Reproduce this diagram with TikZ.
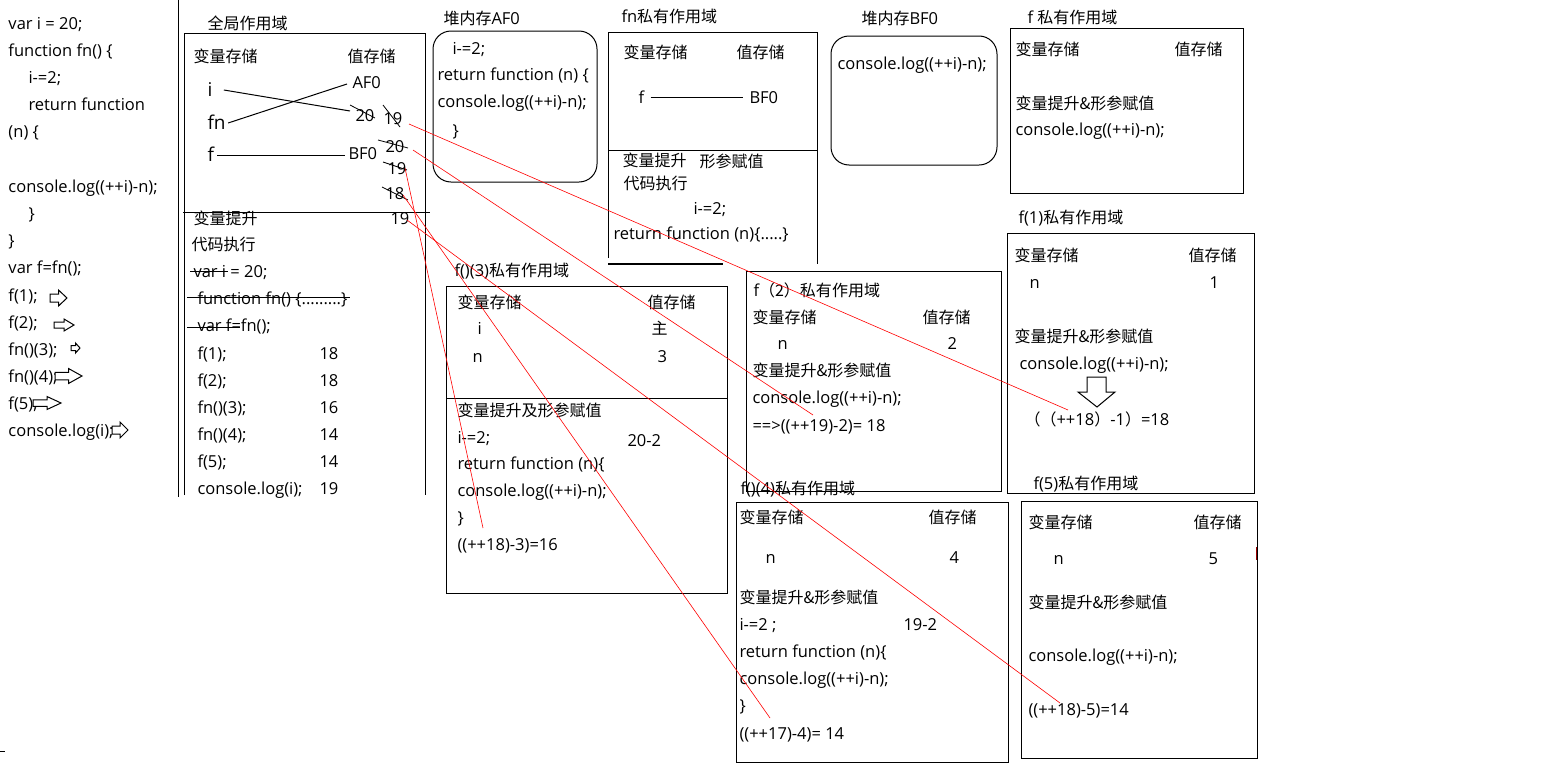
\documentclass[tikz,border=0pt]{standalone}
\usepackage{fontspec}
\setmainfont{Open Sans}
\newfontfamily\cjk{Noto Sans CJK SC}[Scale=0.97]

\tikzset{
 txt/.style={anchor=west,inner sep=0pt,text height=14pt,text depth=2pt,font=\fontsize{16.5}{20}\selectfont},
 bigtxt/.style={txt,font=\fontsize{19}{22}\selectfont},
 heapbox/.style={rounded corners=18pt},
 strike/.style={line width=0.8pt},
 trace/.style={red,line width=0.6pt},
}

\begin{document}
\begin{tikzpicture}[x=1pt,y=-1pt,line width=1pt]
\path[fill=white,use as bounding box] (0,0) rectangle (1552,763);

% source code on the left
\node[txt] (c1) at (8,23) {var i = 20;};
\node[txt] (c2) at (8,50) {function fn() \{};
\node[txt] (c3) at (28,77) {i-=2;};
\node[txt] (c4) at (28,104) {return function};
\node[txt] (c5) at (8,131) {(n) \{};
\node[txt] (c6) at (8,186) {console.log((++i)-n);};
\node[txt] (c7) at (28,213) {\}};
\node[txt] (c8) at (8,240) {\}};
\node[txt] (c9) at (8,267) {var f=fn();};
\node[txt] (c10) at (8,295) {f(1);};
\node[txt] (c11) at (8,322) {f(2);};
\node[txt] (c12) at (8,349) {fn()(3);};
\node[txt] (c13) at (8,376) {fn()(4);};
\node[txt] (c14) at (8,403) {f(5);};
\node[txt] (c15) at (8,430) {console.log(i);};
\draw (178,0) -- (178,497);
\draw (0,751) -- (5,751);
\foreach \ax/\ay/\al/\ah in {50/298/17/16, 54/325/20/12, 71/348/9/10, 55/376/27/15, 33/403/28/13, 112/430/16/16}
 \draw[fill=white] (\ax,\ay-\ah/4) -- (\ax+\al/2,\ay-\ah/4) -- (\ax+\al/2,\ay-\ah/2) -- (\ax+\al,\ay)
   -- (\ax+\al/2,\ay+\ah/2) -- (\ax+\al/2,\ay+\ah/4) -- (\ax,\ay+\ah/4) -- cycle;

% global scope
\node[txt] (gtitle) at (207,23) {\cjk 全局作用域};
\draw (184,495) -- (184,33) -- (425,33) -- (425,495);
\draw (183,212) -- (430,212);
\node[txt] (gvar) at (193,56) {\cjk 变量存储};
\node[txt] (gval) at (347,56) {\cjk 值存储};
\node[bigtxt] (gi) at (207,90) {i};
\node[bigtxt] (gfn) at (207,123) {fn};
\node[bigtxt] (gf) at (207,155) {f};
\node[txt] (gaf) at (352,82) {AF0};
\node[txt] (g20) at (355,115) {20};
\node[txt] (gbf) at (348,153) {BF0};
\draw ([xshift=11pt]gi.east) -- ([xshift=-5pt,yshift=4pt]g20.west);
\draw ([xshift=2pt]gfn.east) -- ([xshift=-5pt,yshift=-2pt]gaf.west);
\draw ([xshift=3pt]gf.east) -- ([xshift=-3pt,yshift=-2pt]gbf.west);
\node[txt] (g19a) at (383,118) {19};
\node[txt] (g20b) at (385,146) {20};
\node[txt] (g19b) at (387,168) {19};
\node[txt] (g18) at (385,193) {18};
\node[txt] (g19c) at (390,218) {19};
\draw[strike] (350,105) -- (375,118);
\draw[strike] (383,105) -- (400,127);
\draw[strike] (378,140) -- (408,148);
\draw[strike] (383,162) -- (407,170);
\draw[strike] (382,187) -- (408,200);
\node[txt] (ghoist) at (193,218) {\cjk 变量提升};
\node[txt] (grun) at (191,244) {\cjk 代码执行};
\node[txt] (g1) at (193,271) {var i = 20;};
\node[txt] (g2) at (197,298) {function fn() \{.........\}};
\node[txt] (g3) at (197,325) {var f=fn();};
\draw[strike] (190,271) -- (228,271);
\draw[strike] (187,297) -- (350,297);
\draw[strike] (187,327) -- (240,327);
\foreach \y/\call/\out [count=\k] in {353/f(1);/18, 380/f(2);/18, 407/fn()(3);/16,
    434/fn()(4);/14, 461/f(5);/14, 488/console.log(i);/19} {
 \node[txt] (call\k) at (197,\y) {\call};
 \node[txt] (out\k) at (319,\y) {\out};
}

% heap AF0
\node[txt] (aftitle) at (443,18) {{\cjk 堆内存}AF0};
\draw[heapbox] (433,31) rectangle (597,182);
\node[txt] (af1) at (452,48) {i-=2;};
\node[txt] (af2) at (437,74) {return function (n) \{};
\node[txt] (af3) at (437,101) {console.log((++i)-n);};
\node[txt] (af4) at (452,130) {\}};

% fn private scope
\node[txt] (fntitle) at (621,16) {fn{\cjk 私有作用域}};
\draw (608,258) -- (608,32) -- (817,32) -- (817,264);
\draw[line width=2pt] (608,264) -- (723,264);
\draw (608,150) -- (817,150);
\node[txt] (fnvar) at (623,52) {\cjk 变量存储};
\node[txt] (fnval) at (736,52) {\cjk 值存储};
\node[txt] (fnf) at (638,97) {f};
\node[txt] (fnbf) at (749,97) {BF0};
\draw ([xshift=6pt]fnf.east) -- ([xshift=-6pt]fnbf.west);
\node[txt] (fnhoist) at (622,160) {\cjk 变量提升};
\node[txt] (fnarg) at (699,161) {\cjk 形参赋值};
\node[txt] (fnrun) at (623,183) {\cjk 代码执行};
\node[txt] (fn1) at (693,208) {i-=2;};
\node[txt] (fn2) at (613,233) {return function (n)\{.....\}};

% heap BF0
\node[txt] (bftitle) at (861,18) {{\cjk 堆内存}BF0};
\draw[heapbox] (831,36) rectangle (997,165);
\node[txt] (bf1) at (837,63) {console.log((++i)-n);};

% f private scope
\node[txt] (ftitle) at (1027,17) {f {\cjk 私有作用域}};
\draw (1010,28) rectangle (1243,193);
\node[txt] (fvar) at (1015,49) {\cjk 变量存储};
\node[txt] (fval) at (1174,49) {\cjk 值存储};
\node[txt] (fhoist) at (1015,103) {\cjk 变量提升\&形参赋值};
\node[txt] (f1) at (1015,129) {console.log((++i)-n);};

% f()(3)
\node[txt] (t3) at (454,270) {f()(3){\cjk 私有作用域}};
\draw (446,286) rectangle (727,593);
\draw (446,398) -- (727,398);
\node[txt] (v3var) at (457,302) {\cjk 变量存储};
\node[txt] (v3val) at (647,302) {\cjk 值存储};
\node[txt] (v3i) at (477,328) {i};
\node[txt] (v3ival) at (651,328) {\cjk 主};
\node[txt] (v3n) at (472,356) {n};
\node[txt] (v3nval) at (657,356) {3};
\node[txt] (v3hoist) at (457,410) {\cjk 变量提升及形参赋值};
\node[txt] (v3a) at (457,437) {i-=2;};
\node[txt] (v3b) at (627,440) {20-2};
\node[txt] (v3c) at (457,463) {return function (n)\{};
\node[txt] (v3d) at (457,490) {console.log((++i)-n);};
\node[txt] (v3e) at (457,517) {\}};
\node[txt] (v3r) at (457,544) {((++18)-3)=16};

% f(2)
\draw (746,271) rectangle (1001,491);
\node[txt] (t2) at (753,290) {f{\cjk （2）私有作用域}};
\node[txt] (v2var) at (752,317) {\cjk 变量存储};
\node[txt] (v2val) at (922,317) {\cjk 值存储};
\node[txt] (v2n) at (777,343) {n};
\node[txt] (v2nval) at (947,343) {2};
\node[txt] (v2hoist) at (752,370) {\cjk 变量提升\&形参赋值};
\node[txt] (v2a) at (752,397) {console.log((++i)-n);};
\node[txt] (v2r) at (752,425) {==>((++19)-2)= 18};

% f(1)
\node[txt] (t1) at (1018,217) {f(1){\cjk 私有作用域}};
\draw (1007,233) rectangle (1254,493);
\node[txt] (v1var) at (1014,255) {\cjk 变量存储};
\node[txt] (v1val) at (1188,255) {\cjk 值存储};
\node[txt] (v1n) at (1029,282) {n};
\node[txt] (v1nval) at (1209,282) {1};
\node[txt] (v1hoist) at (1014,336) {\cjk 变量提升\&形参赋值};
\node[txt] (v1a) at (1019,363) {console.log((++i)-n);};
\draw (1087,377) -- (1106,377) -- (1106,392) -- (1115,392) -- (1097,407) -- (1078,392) -- (1087,392) -- cycle;
\node[txt] (v1r) at (1024,419) {{\cjk （（}++18{\cjk ）}-1{\cjk ）}=18};
\node[txt] (t5) at (1033,483) {f(5){\cjk 私有作用域}};

% f()(4)
\draw (736,502) rectangle (1008,762.5);
\node[txt] (t4) at (740,488) {f()(4){\cjk 私有作用域}};
\node[txt] (v4var) at (739,517) {\cjk 变量存储};
\node[txt] (v4val) at (928,517) {\cjk 值存储};
\node[txt] (v4n) at (765,557) {n};
\node[txt] (v4nval) at (949,557) {4};
\node[txt] (v4hoist) at (739,597) {\cjk 变量提升\&形参赋值};
\node[txt] (v4a) at (739,624) {i-=2 ;};
\node[txt] (v4b) at (903,624) {19-2};
\node[txt] (v4c) at (739,651) {return function (n)\{};
\node[txt] (v4d) at (739,678) {console.log((++i)-n);};
\node[txt] (v4e) at (739,705) {\}};
\node[txt] (v4r) at (739,733) {((++17)-4)= 14};

% f(5)
\draw (1021,501) rectangle (1257,758);
\node[txt] (v5var) at (1028,522) {\cjk 变量存储};
\node[txt] (v5val) at (1193,522) {\cjk 值存储};
\node[txt] (v5n) at (1053,558) {n};
\node[txt] (v5nval) at (1208,558) {5};
\node[txt] (v5hoist) at (1028,602) {\cjk 变量提升\&形参赋值};
\node[txt] (v5a) at (1028,655) {console.log((++i)-n);};
\node[txt] (v5r) at (1028,709) {((++18)-5)=14};
\draw[red!60!black] (1256,547) -- (1256,560);

% red traces: which value each call used
\coordinate (from1) at (409,124); \coordinate (to1) at (1068,410);
\coordinate (from2) at (413,150); \coordinate (to2) at (813,415);
\coordinate (from3) at (405,168); \coordinate (to3) at (483,528);
\coordinate (from4) at (403,195); \coordinate (to4) at (770,718);
\coordinate (from5) at (407,220); \coordinate (to5) at (1060,703);
\foreach \k in {1,...,5}
 \draw[trace] (from\k) -- (to\k);
\end{tikzpicture}
\end{document}
